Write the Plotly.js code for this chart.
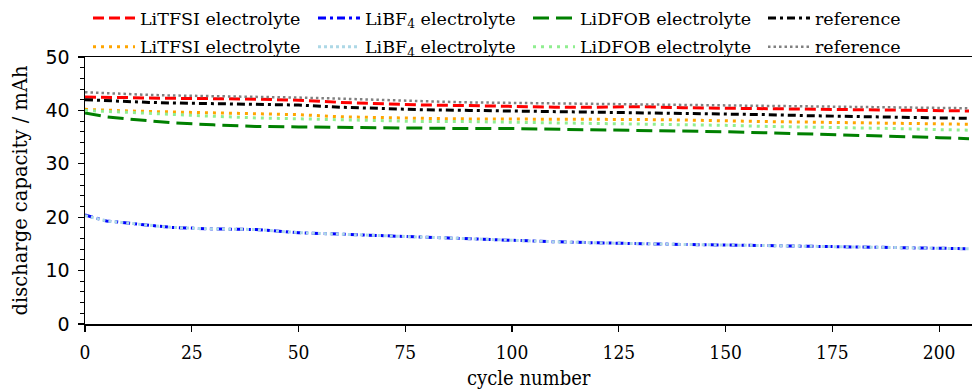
<!DOCTYPE html>
<html>
<head>
<meta charset="utf-8">
<script src="https://cdn.plot.ly/plotly-3.0.1.min.js"></script>
<style>
  html, body { margin: 0; padding: 0; background: #fff; overflow: hidden; }
  #chart { width: 972px; height: 392px; }
</style>
</head>
<body>
<div id="chart"></div>
<script>
// Discharge capacity over cycling for the different electrolytes
const cycles = [0, 5, 10, 15, 20, 30, 40, 50, 60, 70, 80, 90, 100, 110, 120, 130, 140, 150, 160, 170, 180, 190, 200, 207];

const litfsiA = [42.5, 42.5, 42.4, 42.3, 42.3, 42.2, 42.1, 41.9, 41.5, 41.2, 41.0, 40.9, 40.7, 40.6, 40.6, 40.7, 40.5, 40.4, 40.4, 40.3, 40.2, 40.1, 40.0, 39.9];
const litfsiB = [40.2, 40.0, 39.9, 39.8, 39.7, 39.6, 39.4, 39.2, 38.8, 38.6, 38.5, 38.4, 38.4, 38.4, 38.4, 38.3, 38.2, 38.0, 37.9, 37.8, 37.7, 37.6, 37.5, 37.4];
const libf4A  = [20.4, 19.3, 18.9, 18.5, 18.1, 17.8, 17.7, 17.1, 16.8, 16.5, 16.2, 15.9, 15.6, 15.4, 15.2, 15.0, 14.9, 14.8, 14.7, 14.6, 14.5, 14.4, 14.2, 14.1];
const libf4B  = [20.3, 19.3, 18.9, 18.5, 18.1, 17.8, 17.7, 17.1, 16.8, 16.5, 16.2, 15.9, 15.6, 15.4, 15.2, 15.0, 14.9, 14.8, 14.7, 14.6, 14.5, 14.4, 14.2, 14.1];
const lidfobA = [39.5, 38.8, 38.4, 38.0, 37.7, 37.3, 37.0, 36.9, 36.8, 36.7, 36.7, 36.6, 36.6, 36.5, 36.4, 36.3, 36.1, 36.0, 35.8, 35.6, 35.4, 35.1, 34.9, 34.7];
const lidfobB = [40.0, 39.8, 39.6, 39.4, 39.2, 38.9, 38.6, 38.4, 38.2, 38.0, 37.9, 37.9, 37.8, 37.7, 37.6, 37.5, 37.3, 37.2, 37.0, 36.9, 36.7, 36.6, 36.4, 36.3];
const refA    = [42.0, 41.8, 41.6, 41.5, 41.4, 41.3, 41.2, 41.0, 40.6, 40.3, 40.1, 40.0, 39.9, 39.7, 39.6, 39.5, 39.4, 39.3, 39.2, 39.0, 38.9, 38.8, 38.6, 38.5];
const refB    = [43.4, 43.2, 43.0, 42.9, 42.8, 42.7, 42.6, 42.4, 42.2, 41.9, 41.7, 41.5, 41.4, 41.3, 41.2, 41.2, 41.1, 41.0, 40.9, 40.8, 40.7, 40.6, 40.5, 40.4];

const names = {
  litfsi: 'LiTFSI electrolyte',
  libf4: 'LiBF<sub>4</sub> electrolyte',
  lidfob: 'LiDFOB electrolyte',
  ref: 'reference'
};
const xTitle = 'cycle number';
const yTitle = 'discharge capacity / mAh';

const serif = '"DejaVu Serif", "Liberation Serif", serif';
const serifNarrow = '"DejaVu Serif Condensed", "DejaVu Serif", "Liberation Serif", serif';
const sans = '"DejaVu Sans", sans-serif';

function series(y, name, color, dash, width, legend, group) {
  return {
    x: cycles, y: y, name: name, type: 'scatter', mode: 'lines',
    line: { color: color, dash: dash, width: width },
    legend: legend, legendgroup: group, hoverinfo: 'skip'
  };
}

const traces = [
  series(litfsiA, names.litfsi, '#ff0000', '11px,5px', 3, 'legend', 'a1'),
  series(litfsiB, names.litfsi, '#ffa500', '3px,5px', 3, 'legend', 'a2'),
  series(libf4A, names.libf4, '#0000ff', '8px,4px,3px,4px', 3, 'legend2', 'b1'),
  series(libf4B, names.libf4, '#add8e6', '3px,3px', 3, 'legend2', 'b2'),
  series(lidfobA, names.lidfob, '#008000', '16px,7px', 3, 'legend3', 'c1'),
  series(lidfobB, names.lidfob, '#90ee90', '3px,5px', 3, 'legend3', 'c2'),
  series(refA, names.ref, '#000000', '8px,4px,3px,4px', 3, 'legend4', 'd1'),
  series(refB, names.ref, '#808080', '2.5px,3px', 2.5, 'legend4', 'd2')
];

function legendAt(x) {
  return {
    xref: 'container', yref: 'container',
    x: x, y: 1.008, xanchor: 'left', yanchor: 'top',
    orientation: 'v', traceorder: 'grouped', tracegroupgap: 3,
    bgcolor: 'rgba(0,0,0,0)', borderwidth: 0,
    font: { family: serif, size: 17.5, color: '#000' },
    itemwidth: 42
  };
}

const layout = {
  width: 972, height: 392,
  margin: { l: 85, r: 0, t: 57, b: 68, autoexpand: false },
  paper_bgcolor: '#fff', plot_bgcolor: '#fff',
  showlegend: true,
  legend: legendAt(88 / 972),
  legend2: legendAt(313 / 972),
  legend3: legendAt(528 / 972),
  legend4: legendAt(763 / 972),
  xaxis: {
    range: [0, 207.7], dtick: 25, tick0: 0,
    showgrid: false, zeroline: false,
    showline: true, linecolor: '#000', linewidth: 1.5, mirror: true,
    ticks: 'outside', ticklen: 6, tickwidth: 1.2, tickcolor: '#000',
    ticklabelstandoff: 5,
    tickfont: { family: serifNarrow, size: 19, color: '#000' }
  },
  yaxis: {
    range: [0, 50], dtick: 10, tick0: 0,
    showgrid: false, zeroline: false,
    showline: true, linecolor: '#000', linewidth: 1.5, mirror: false,
    ticks: 'outside', ticklen: 6, tickwidth: 1.2, tickcolor: '#000',
    ticklabelstandoff: 4,
    minor: { dtick: 2, ticks: 'outside', ticklen: 3.5, tickwidth: 1, tickcolor: '#000', showgrid: false },
    tickfont: { family: sans, size: 19, color: '#000' }
  },
  annotations: [
    {
      text: xTitle, xref: 'paper', yref: 'paper', x: 0.5, y: 0,
      xanchor: 'center', yanchor: 'middle', yshift: -54, showarrow: false,
      font: { family: serifNarrow, size: 20, color: '#000' }
    },
    {
      text: yTitle, xref: 'paper', yref: 'paper', x: 0, y: 0.5,
      xanchor: 'center', yanchor: 'middle', xshift: -65, textangle: -90, showarrow: false,
      font: { family: serif, size: 19.5, color: '#000' }
    }
  ]
};

Plotly.newPlot('chart', traces, layout, { staticPlot: true, displayModeBar: false });
</script>
</body>
</html>
